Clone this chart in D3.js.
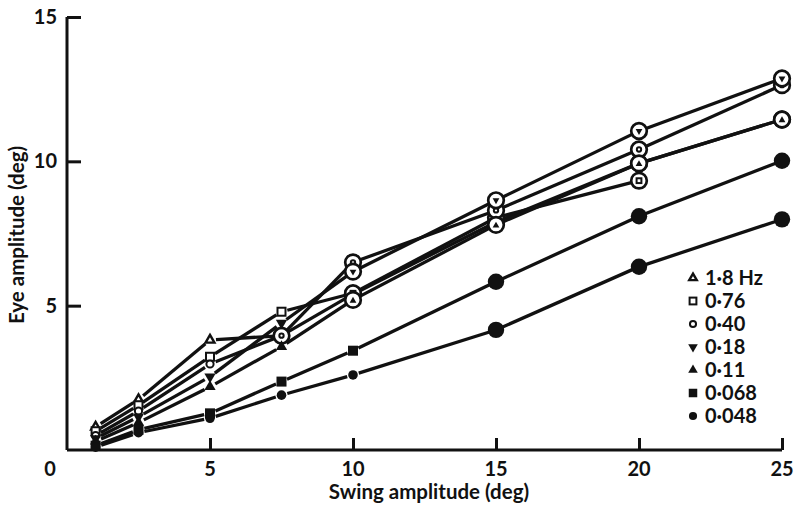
<!DOCTYPE html>
<html>
<head>
<meta charset="utf-8">
<script src="https://cdn.jsdelivr.net/npm/d3@7"></script>
<style>
  body { margin: 0; background: #fff; }
  text { font-family: Lato, "Open Sans", sans-serif; font-weight: 700; fill: #111; }
</style>
</head>
<body>
<div id="chart"></div>
<script>
// swing amplitude (deg) at which eye amplitude was measured
var swingAmp = [1, 2.5, 5, 7.5, 10, 15, 20, 25];

// eye amplitude (deg) for each swing frequency
var eye18 = [0.8, 1.75, 3.81, 3.96, 5.4, 7.9, 9.93, 11.45];
var eye076 = [0.65, 1.55, 3.23, 4.79, 5.43, 8.05, 9.33];
var eye040 = [0.5, 1.35, 2.98, 3.96, 6.5, 8.3, 10.41, 12.64];
var eye018 = [0.4, 1.15, 2.54, 4.4, 6.18, 8.65, 11.05, 12.87];
var eye011 = [0.3, 0.95, 2.19, 3.58, 5.2, 7.8, 9.93, 11.45];
var eye0068 = [0.15, 0.7, 1.27, 2.37, 3.44, 5.83, 8.1, 10.02];
var eye0048 = [0.1, 0.6, 1.1, 1.9, 2.6, 4.16, 6.35, 7.99];

var legendLabels = ["1·8 Hz", "0·76", "0·40", "0·18", "0·11", "0·068", "0·048"];
var symbolNames = ["triOpen", "squareOpen", "circleOpen", "triDown", "tri", "square", "circle"];
// swing amplitude from which the points are drawn circled / large
var ringFrom = [10, 10, 7.5, 10, 10, 15, 15];

var xTicks = [0, 5, 10, 15, 20, 25];
var yTicks = [5, 10, 15];

var allSeries = [eye18, eye076, eye040, eye018, eye011, eye0068, eye0048];

var width = 798, height = 509;

var svg = d3.select("#chart").append("svg")
    .attr("width", width)
    .attr("height", height);

var x = d3.scaleLinear().domain([0, 25]).range([67, 782]);
var y = d3.scaleLinear().domain([0, 15]).range([450, 17]);

// axes
var xAxis = d3.axisBottom(x).tickValues(xTicks.slice(1)).tickSize(-12).tickFormat("");
var yAxis = d3.axisLeft(y).tickValues(yTicks).tickSize(-14).tickFormat("");

var gx = svg.append("g").attr("transform", "translate(0," + y(0) + ")").call(xAxis);
var gy = svg.append("g").attr("transform", "translate(" + x(0) + ",0)").call(yAxis);
[gx, gy].forEach(function(g){
    g.select(".domain").attr("stroke", "#111").attr("stroke-width", 3);
    g.selectAll(".tick line").attr("stroke", "#111").attr("stroke-width", 3);
});
gx.select(".domain").attr("d", "M" + x(0) + ",0H" + x(25));
gy.select(".domain").attr("d", "M0," + y(15) + "V" + y(0));

svg.selectAll(".xlab").data(xTicks).enter().append("text")
    .attr("x", function(d){ return d == 0 ? x(0) - 17 : x(d); })
    .attr("y", y(0) + 26)
    .attr("text-anchor", "middle")
    .attr("font-size", 20)
    .text(function(d){ return d; });

svg.selectAll(".ylab").data(yTicks).enter().append("text")
    .attr("x", x(0) - 10)
    .attr("y", function(d){ return y(d) + 7; })
    .attr("text-anchor", "end")
    .attr("font-size", 20)
    .text(function(d){ return d; });

svg.append("text")
    .attr("x", 429).attr("y", 499)
    .attr("text-anchor", "middle")
    .attr("font-size", 20.5)
    .text("Swing amplitude (deg)");

svg.append("text")
    .attr("transform", "translate(24," + 235 + ") rotate(-90)")
    .attr("text-anchor", "middle")
    .attr("font-size", 20.5)
    .text("Eye amplitude (deg)");

// lines, broken short of each point
var gap = 6;
allSeries.forEach(function(vals){
    for (var i = 1; i < vals.length; i++) {
        var x0 = x(swingAmp[i-1]), y0 = y(vals[i-1]),
            x1 = x(swingAmp[i]), y1 = y(vals[i]);
        var len = Math.sqrt((x1-x0)*(x1-x0) + (y1-y0)*(y1-y0));
        var ux = (x1-x0)/len, uy = (y1-y0)/len;
        svg.append("line")
            .attr("x1", x0 + ux*gap).attr("y1", y0 + uy*gap)
            .attr("x2", x1 - ux*gap).attr("y2", y1 - uy*gap)
            .attr("stroke", "#111")
            .attr("stroke-width", 3.3);
    }
});

function drawSymbol(g, name, cx, cy, scale) {
    var s = scale || 1;
    if (name == "triOpen") {
        g.append("path").attr("d", d3.symbol().type(d3.symbolTriangle).size(34*s*s)())
            .attr("transform", "translate(" + cx + "," + cy + ")")
            .attr("fill", "#fff").attr("stroke", "#111").attr("stroke-width", 2.4);
    } else if (name == "tri" || name == "triDown") {
        g.append("path").attr("d", d3.symbol().type(d3.symbolTriangle).size(55*s*s)())
            .attr("transform", "translate(" + cx + "," + cy + ")" + (name == "triDown" ? " rotate(180)" : ""))
            .attr("fill", "#111");
    } else if (name == "squareOpen") {
        g.append("rect").attr("x", cx - 4*s).attr("y", cy - 4*s)
            .attr("width", 8*s).attr("height", 8*s)
            .attr("fill", "#fff").attr("stroke", "#111").attr("stroke-width", 2);
    } else if (name == "square") {
        g.append("rect").attr("x", cx - 5*s).attr("y", cy - 5*s)
            .attr("width", 10*s).attr("height", 10*s)
            .attr("fill", "#111");
    } else if (name == "circleOpen") {
        g.append("circle").attr("cx", cx).attr("cy", cy).attr("r", 3.6*s)
            .attr("fill", "#fff").attr("stroke", "#111").attr("stroke-width", 2);
    } else {
        g.append("circle").attr("cx", cx).attr("cy", cy).attr("r", 4.8*s)
            .attr("fill", "#111");
    }
}

// points
var pts = svg.append("g");
allSeries.forEach(function(vals, k){
    vals.forEach(function(v, i){
        var cx = x(swingAmp[i]), cy = y(v);
        var ringed = swingAmp[i] >= ringFrom[k];
        if (ringed && k < 5) {
            pts.append("circle").attr("cx", cx).attr("cy", cy).attr("r", 7.8)
                .attr("fill", "#fff").attr("stroke", "#111").attr("stroke-width", 2.7);
            drawSymbol(pts, symbolNames[k], cx, cy + (symbolNames[k] == "tri" || symbolNames[k] == "triOpen" ? 0.8 : 0), 0.6);
        } else if (ringed) {
            pts.append("circle").attr("cx", cx).attr("cy", cy).attr("r", 8.2)
                .attr("fill", "#111");
        } else {
            drawSymbol(pts, symbolNames[k], cx, cy, 1);
        }
    });
});

// legend
var legend = svg.append("g").attr("transform", "translate(693,278)");
legendLabels.forEach(function(lab, k){
    var ly = k * 23;
    drawSymbol(legend, symbolNames[k], 0, ly, 0.85);
    legend.append("text")
        .attr("x", 12).attr("y", ly + 7)
        .attr("font-size", 20)
        .text(lab);
});
</script>
</body>
</html>
